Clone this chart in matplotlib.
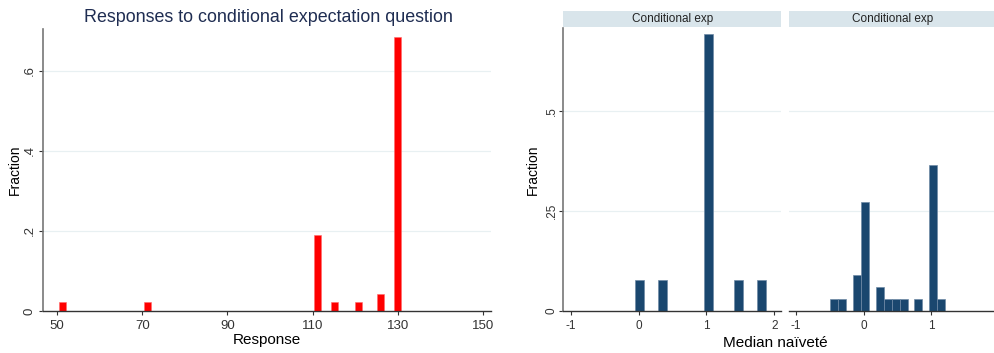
import matplotlib
matplotlib.use("Agg")
import matplotlib.pyplot as plt
from matplotlib.patches import Rectangle

plt.rcParams['font.family'] = ['Liberation Sans', 'DejaVu Sans']

# Left histogram: responses to conditional expectation question
resp_left = [50.4, 70.4, 110.4, 114.4, 120.0, 125.2, 129.1]
resp_frac = [0.022, 0.022, 0.189, 0.022, 0.022, 0.043, 0.685]
resp_ticks = [50, 70, 90, 110, 130, 150]

# Right histograms: median naivete, two panels
naive1_left = [-0.05, 0.29, 0.97, 1.41, 1.75]
naive1_frac = [0.0769, 0.0769, 0.692, 0.0769, 0.0769]
naive2_left = [-0.50, -0.38, -0.16, -0.04, 0.18, 0.30, 0.42, 0.54, 0.74, 0.96, 1.08]
naive2_frac = [0.0303, 0.0303, 0.0909, 0.273, 0.0606, 0.0303, 0.0303, 0.0303,
               0.0303, 0.364, 0.0303]
facet_titles = ["Conditional exp", "Conditional exp"]

W, H = 995, 353
fig = plt.figure(figsize=(W / 100, H / 100), dpi=100)

navy = '#1a476f'
grid_c = '#e8f0f2'


def px(x0, y_top, x1, y_bot):
    return [x0 / W, 1 - y_bot / H, (x1 - x0) / W, (y_bot - y_top) / H]


def style(ax, left_spine=True, ypad=6.5):
    for s in ['top', 'right']:
        ax.spines[s].set_visible(False)
    ax.spines['bottom'].set_color('#333333')
    ax.spines['bottom'].set_linewidth(1.0)
    if left_spine:
        ax.spines['left'].set_color('#777777')
        ax.spines['left'].set_linewidth(1.2)
    else:
        ax.spines['left'].set_visible(False)
    ax.tick_params(direction='out', length=3, width=0.8, colors='#333333')
    ax.tick_params(axis='y', pad=ypad)
    ax.yaxis.grid(True, color=grid_c, linewidth=0.9)
    ax.set_axisbelow(True)


# ---- left chart
ax = fig.add_axes(px(43, 29, 491, 311))
ax.bar(resp_left, resp_frac, width=1.6, align='edge', color='red',
       edgecolor='#ff6a6a', linewidth=0.4)
ax.set_xlim(46.7, 151.9)
ax.set_ylim(0, 0.705)
ax.set_xticks(resp_ticks)
ax.set_xticklabels([str(t) for t in resp_ticks], fontsize=9.5)
ax.set_yticks([0, 0.2, 0.4, 0.6])
ax.set_yticklabels(['0', '.2', '.4', '.6'], fontsize=9.5, rotation=90,
                   va='center', ha='center')
style(ax, True, 6.7)
ax.get_ygridlines()[0].set_visible(False)

fig.text(268 / W, 1 - 17 / H, "Responses to conditional expectation question",
         ha='center', va='center', fontsize=12.9, color='#1f2d52')
fig.text(267 / W, 1 - 340 / H, "Response", ha='center', va='center', fontsize=11)
fig.text(15 / W, 1 - 170 / H, "Fraction", ha='center', va='center',
         rotation=90, fontsize=10)

# ---- right panels
ax1 = fig.add_axes(px(563.3, 28, 781, 311))
ax2 = fig.add_axes(px(789.3, 28, 995, 311))

ax1.bar(naive1_left, naive1_frac, width=0.123, align='edge', color=navy,
        edgecolor='#6f8aa6', linewidth=0.5)
ax2.bar(naive2_left, naive2_frac, width=0.12, align='edge', color=navy,
        edgecolor='#6f8aa6', linewidth=0.5)

ax1.set_xlim(-1.11, 2.1)
ax2.set_xlim(-1.1, 1.94)
ax1.set_xticks([-1, 0, 1, 2])
ax1.set_xticklabels(['-1', '0', '1', '2'], fontsize=8.5)
ax2.set_xticks([-1, 0, 1])
ax2.set_xticklabels(['-1', '0', '1'], fontsize=8.5)
for a, lab, show_left in [(ax1, facet_titles[0], True), (ax2, facet_titles[1], False)]:
    a.set_ylim(0, 0.7075)
    a.set_yticks([0, 0.25, 0.5])
    style(a, show_left, 5.3)
    a.get_ygridlines()[0].set_visible(False)
    a.add_patch(Rectangle((0, 1.003), 1, 0.058, transform=a.transAxes,
                          facecolor='#d9e5eb', edgecolor='none', clip_on=False))
    a.text(0.5, 1.032, lab, transform=a.transAxes, ha='center', va='center',
           fontsize=8.5, color='#222222')

ax1.set_yticklabels(['0', '.25', '.5'], fontsize=8.5, rotation=90,
                    va='center', ha='center')
ax2.tick_params(axis='y', left=False, labelleft=False)

fig.text(775 / W, 1 - 343 / H, "Median naïveté", ha='center', va='center', fontsize=11)
fig.text(533 / W, 1 - 170 / H, "Fraction", ha='center', va='center',
         rotation=90, fontsize=10)

fig.savefig("out.png", dpi=100)
